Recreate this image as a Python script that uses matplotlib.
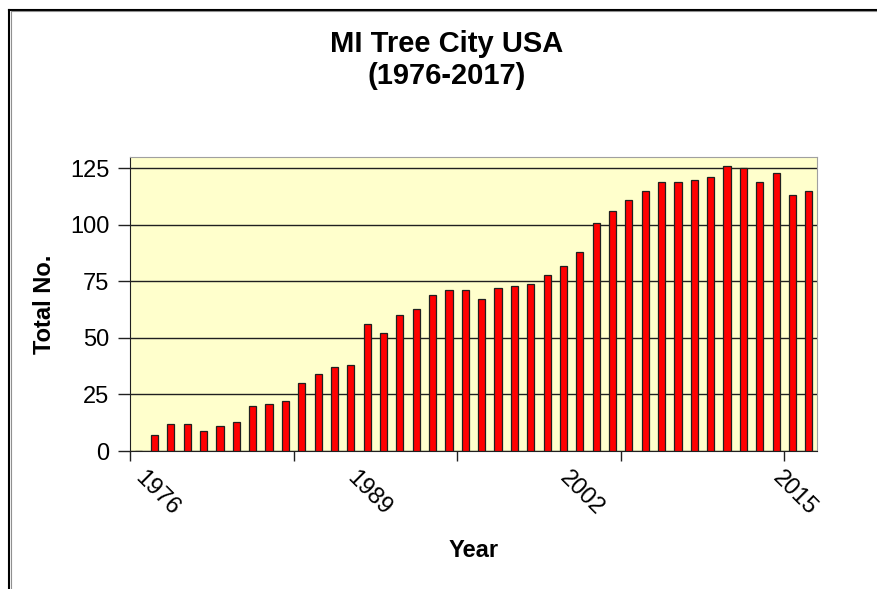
import matplotlib.pyplot as plt
from matplotlib.lines import Line2D
import numpy as np

plt.rcParams['font.family'] = ['Liberation Sans', 'DejaVu Sans']

# data
years = list(range(1976, 2018))
counts = [0, 7, 12, 12, 9, 11, 13, 20, 21, 22, 30, 34, 37, 38,
          56, 52, 60, 63, 69, 71, 71, 67, 72, 73, 74, 78, 82, 88,
          101, 106, 111, 115, 119, 119, 120, 121, 126, 125, 119, 123, 113, 115]
label_years = [1976, 1989, 2002, 2015]
y_ticks = [0, 25, 50, 75, 100, 125]

W, H = 878, 589
fig = plt.figure(figsize=(W / 100, H / 100), dpi=100)
ax = fig.add_axes([130 / W, 1 - 451 / H, (817 - 130) / W, (451 - 157) / H])
ax.set_facecolor('#FFFFCC')

x = np.arange(len(years))
ax.bar(x, counts, width=0.44, color='#FF0000', edgecolor='#202020', linewidth=0.9, zorder=3)

ax.set_xlim(-0.5, len(years) - 0.5)
ax.set_ylim(0, 130)

# gridlines
ax.set_yticks(y_ticks)
ax.yaxis.grid(True, color='#202020', linewidth=1.0, zorder=1)
ax.set_axisbelow(True)
ax.tick_params(axis='y', direction='out', length=9, width=1, color='#202020',
               labelsize=17, pad=6)

# x ticks: marks every 10 categories at boundaries, labels every 13 years
ax.set_xticks(np.arange(-0.5, len(years), 10))
ax.set_xticklabels([])
ax.tick_params(axis='x', which='major', direction='out', length=7, width=1, color='#202020')
lab_pos = [years.index(y) for y in label_years]
ax.set_xticks(lab_pos, minor=True)
ax.set_xticklabels([str(y) for y in label_years], minor=True, rotation=-45,
                   ha='left', va='center', rotation_mode='anchor', fontsize=17)
ax.tick_params(axis='x', which='minor', length=0, pad=17)

for s in ['top', 'right']:
    ax.spines[s].set_color('#A0A0A0')
for s in ['left', 'bottom']:
    ax.spines[s].set_color('#202020')

ax.set_xlabel('Year', fontsize=17, fontweight='bold', labelpad=14)
ax.set_ylabel('Total No.', fontsize=17, fontweight='bold', labelpad=10)

fig.text(447 / W, 1 - 44 / H, 'MI Tree City USA', ha='center', va='center',
         fontsize=21, fontweight='bold')
fig.text(447 / W, 1 - 76 / H, '(1976-2017)', ha='center', va='center',
         fontsize=21, fontweight='bold')

# chart frame (top and left edges visible)
fig.add_artist(Line2D([9.5 / W, 1], [1 - 9.5 / H, 1 - 9.5 / H], color='black', linewidth=1.5))
fig.add_artist(Line2D([9.5 / W, 9.5 / W], [0, 1 - 9.5 / H], color='black', linewidth=1.5))
fig.add_artist(Line2D([11 / W, 1], [1 - 11 / H, 1 - 11 / H], color='#909090', linewidth=0.8))
fig.add_artist(Line2D([11 / W, 11 / W], [0, 1 - 11 / H], color='#909090', linewidth=0.8))

fig.savefig('out.png', dpi=100)
